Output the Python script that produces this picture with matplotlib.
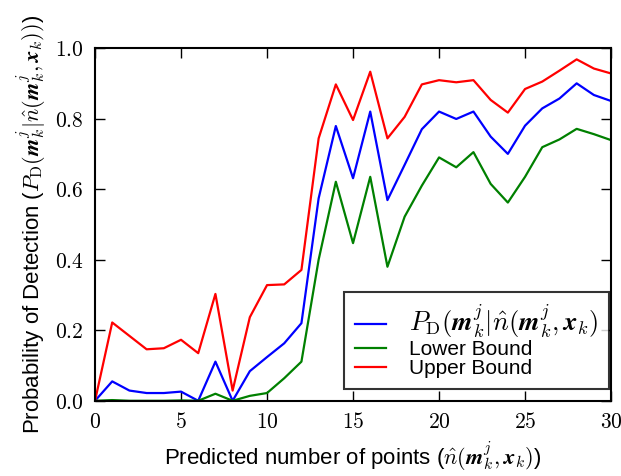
import matplotlib
matplotlib.use("Agg")
import matplotlib.pyplot as plt
from matplotlib.ticker import FuncFormatter
import numpy as np

plt.rcParams["font.family"] = ["Liberation Sans", "DejaVu Sans"]
plt.rcParams["mathtext.fontset"] = "cm"

# predicted number of points
n_points = list(range(0, 31))

p_detect = [0.0, 0.055, 0.029, 0.022, 0.022, 0.026, 0.0, 0.111, 0.0, 0.084, 0.124,
            0.163, 0.22, 0.574, 0.779, 0.631, 0.82, 0.569, 0.669, 0.77, 0.82,
            0.799, 0.82, 0.749, 0.70, 0.78, 0.829, 0.857, 0.90, 0.867, 0.85]
lower_bound = [0.0, 0.002, 0.0, 0.0, 0.0, 0.001, 0.0, 0.02, 0.0, 0.014, 0.022,
               0.064, 0.111, 0.40, 0.621, 0.447, 0.635, 0.38, 0.522, 0.61, 0.69,
               0.662, 0.705, 0.615, 0.562, 0.635, 0.719, 0.741, 0.771, 0.756, 0.739]
upper_bound = [0.0, 0.222, 0.184, 0.146, 0.149, 0.173, 0.135, 0.303, 0.029, 0.237, 0.328,
               0.33, 0.371, 0.744, 0.897, 0.796, 0.933, 0.744, 0.805, 0.897, 0.909,
               0.903, 0.909, 0.853, 0.817, 0.884, 0.905, 0.936, 0.968, 0.942, 0.928]

fig = plt.figure(figsize=(6.21, 4.76), dpi=100)
ax = fig.add_axes([0.153, 0.158, 0.831, 0.741])

ax.plot(n_points, p_detect, color=(0, 0, 1), lw=1.6,
        label=r"$P_\mathrm{D}(\boldsymbol{m}_k^j|\hat{n}(\boldsymbol{m}_k^j,\boldsymbol{x}_k)$")
ax.plot(n_points, lower_bound, color=(0, 0.5, 0), lw=1.6, label="Lower Bound")
ax.plot(n_points, upper_bound, color=(1, 0, 0), lw=1.6, label="Upper Bound")

ax.set_xlim(0, 30)
ax.set_ylim(0, 1)
ax.set_xticks([0, 5, 10, 15, 20, 25, 30])
ax.set_yticks([0, 0.2, 0.4, 0.6, 0.8, 1.0])
ax.xaxis.set_major_formatter(FuncFormatter(lambda v, p: f"${int(v)}$"))
ax.yaxis.set_major_formatter(FuncFormatter(lambda v, p: f"${v:.1f}$"))
ax.tick_params(direction="in", top=True, right=True, length=7, width=1,
               labelsize=15.5, pad=8)
for s in ax.spines.values():
    s.set_linewidth(1.5)

ax.set_xlabel(r"Predicted number of points ($\hat{n}(\boldsymbol{m}_k^j,\boldsymbol{x}_k)$)",
              fontsize=16, labelpad=5)
ax.set_ylabel(r"Probability of Detection ($P_\mathrm{D}(\boldsymbol{m}_k^j|\hat{n}(\boldsymbol{m}_k^j,\boldsymbol{x}_k))$)",
              fontsize=16, labelpad=5)

leg = ax.legend(loc="lower right", bbox_to_anchor=(0.996, 0.034), fontsize=15,
                fancybox=False, handlelength=1.5, handletextpad=1.1,
                labelspacing=0.0, borderaxespad=0.0, borderpad=0.5)
leg.get_texts()[0].set_fontsize(19)
leg.get_frame().set_edgecolor("black")
leg.get_frame().set_linewidth(1.5)

fig.savefig("out.png", dpi=100)
